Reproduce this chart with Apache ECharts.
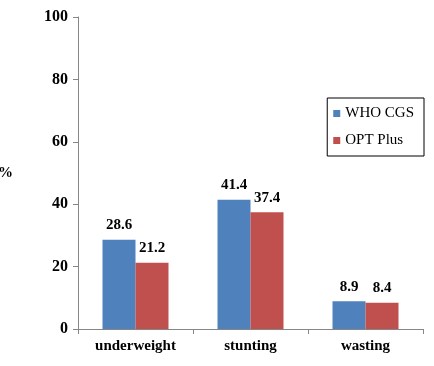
<!DOCTYPE html>
<html>
<head>
<meta charset="utf-8">
<script src="https://cdn.jsdelivr.net/npm/echarts@6/dist/echarts.min.js"></script>
<style>
  html, body { margin: 0; padding: 0; background: #fff; }
  #chart { width: 434px; height: 366px; }
</style>
</head>
<body>
<div id="chart"></div>
<script>
// data
const categories = ['underweight', 'stunting', 'wasting'];
const whoCgs = [28.6, 41.4, 8.9];
const optPlus = [21.2, 37.4, 8.4];

const font = '"Liberation Serif", "DejaVu Serif", serif';

const labelStyle = {
    show: true,
    position: 'top',
    distance: 7,
    fontFamily: font,
    fontWeight: 'bold',
    fontSize: 15,
    color: '#000'
};

const getOption = ()=> {
    return {
        animation: false,
        grid: { left: 78, right: 11, top: 17, bottom: 37, containLabel: false, outerBoundsMode: 'none' },
        legend: {
            orient: 'vertical',
            right: 10,
            top: 98,
            width: 95,
            padding: [8, 10, 8, 6],
            itemGap: 12,
            itemWidth: 7,
            itemHeight: 7,
            icon: 'rect',
            borderColor: '#000',
            borderWidth: 1,
            textStyle: { fontFamily: font, fontSize: 15, color: '#000' },
            data: ['WHO CGS', 'OPT Plus']
        },
        xAxis: {
            type: 'category',
            data: categories,
            axisLine: { lineStyle: { color: '#868686' } },
            axisTick: { show: true, lineStyle: { color: '#868686' } },
            axisLabel: { fontFamily: font, fontWeight: 'bold', fontSize: 15, color: '#000', margin: 10 }
        },
        yAxis: {
            type: 'value',
            min: 0,
            max: 100,
            interval: 20,
            name: '%',
            nameLocation: 'middle',
            nameRotate: 0,
            nameGap: 65,
            nameTextStyle: { fontFamily: font, fontWeight: 'bold', fontSize: 15, color: '#000' },
            axisLine: { show: true, lineStyle: { color: '#868686' } },
            axisTick: { show: true, length: 5, lineStyle: { color: '#868686' } },
            splitLine: { show: false },
            axisLabel: { fontFamily: font, fontWeight: 'bold', fontSize: 16, color: '#000', margin: 10 }
        },
        series: [
            {
                name: 'WHO CGS',
                type: 'bar',
                data: whoCgs,
                barWidth: 33,
                barGap: '0%',
                itemStyle: { color: '#4F81BD' },
                label: labelStyle
            },
            {
                name: 'OPT Plus',
                type: 'bar',
                data: optPlus,
                barWidth: 33,
                itemStyle: { color: '#C0504D' },
                label: labelStyle
            }
        ]
    }
}

const chart = echarts.init(document.getElementById('chart'));
chart.setOption(getOption());
</script>
</body>
</html>
